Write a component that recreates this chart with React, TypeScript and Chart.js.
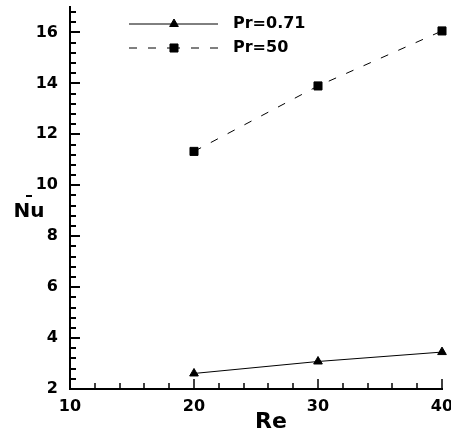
import { useEffect, useRef } from 'react';
import { Chart, registerables } from 'chart.js';
import { drawPoint } from 'chart.js/helpers';

Chart.register(...registerables);

// ---- data ----
const SERIES_LABELS = ['Pr=0.71', 'Pr=50'];
const RE_VALUES = [20, 30, 40];
const NU_PR071 = [2.61, 3.08, 3.45];
const NU_PR50 = [11.33, 13.9, 16.06];

// ---- axes ----
const X_TITLE = 'Re';
const Y_TITLE = 'Nu';
const X_MIN = 10;
const X_MAX = 40;
const Y_MIN = 2;
const Y_MAX = 17;
const X_TICKS = [10, 12, 14, 16, 18, 20, 22, 24, 26, 28, 30, 32, 34, 36, 38, 40];
const X_TICK_LABELS = [10, 20, 30, 40];
const Y_TICKS = [
  2, 2.4, 2.8, 3.2, 3.6, 4, 4.4, 4.8, 5.2, 5.6, 6, 6.4, 6.8, 7.2, 7.6, 8, 8.4, 8.8, 9.2, 9.6,
  10, 10.4, 10.8, 11.2, 11.6, 12, 12.4, 12.8, 13.2, 13.6, 14, 14.4, 14.8, 15.2, 15.6, 16, 16.4, 16.8,
];
const Y_TICK_LABELS = [2, 4, 6, 8, 10, 12, 14, 16];

const FONT = 'DejaVu Sans';

const isIn = (arr: number[], v: number) => arr.some((a) => Math.abs(a - v) < 1e-6);

const overlayPlugin = {
  id: 'overlay',
  afterDraw(chart: any) {
    const ctx: CanvasRenderingContext2D = chart.ctx;
    const { left, right, bottom } = chart.chartArea;
    const xs = chart.scales.x;
    const ys = chart.scales.y;
    ctx.save();
    ctx.setLineDash([]);
    ctx.strokeStyle = '#000';
    ctx.fillStyle = '#000';

    // inward tick marks (y)
    ctx.lineWidth = 2;
    Y_TICKS.forEach((v) => {
      const py = Math.round(ys.getPixelForValue(v));
      const len = isIn(Y_TICK_LABELS, v) ? 10 : 6;
      ctx.beginPath();
      ctx.moveTo(left, py);
      ctx.lineTo(left + len, py);
      ctx.stroke();
    });
    // inward tick marks (x)
    ctx.lineWidth = 1.5;
    X_TICKS.forEach((v) => {
      const px = Math.round(xs.getPixelForValue(v));
      const len = isIn(X_TICK_LABELS, v) ? 10 : 6;
      ctx.beginPath();
      ctx.moveTo(px, bottom);
      ctx.lineTo(px, bottom - len);
      ctx.stroke();
    });

    // axis titles
    ctx.font = `bold 22px "${FONT}"`;
    ctx.textAlign = 'center';
    ctx.textBaseline = 'alphabetic';
    ctx.fillText(X_TITLE, (left + right) / 2 + 15, 428);

    ctx.font = `bold 20px "${FONT}"`;
    ctx.fillText(Y_TITLE, 29, 217);
    ctx.fillRect(26, 195, 6, 2);

    // legend
    const rowY = [24, 48];
    const x0 = 129;
    const x1 = 218;
    const xm = 174;
    chart.data.datasets.forEach((ds: any, i: number) => {
      const y = rowY[i];
      ctx.lineWidth = ds.borderWidth;
      ctx.strokeStyle = ds.borderColor;
      ctx.setLineDash(ds.borderDash || []);
      ctx.beginPath();
      ctx.moveTo(x0, y);
      ctx.lineTo(xm, y);
      ctx.stroke();
      ctx.beginPath();
      ctx.moveTo(x1, y);
      ctx.lineTo(xm, y);
      ctx.stroke();
      ctx.setLineDash([]);
      ctx.fillStyle = ds.pointBackgroundColor;
      ctx.strokeStyle = ds.pointBorderColor;
      ctx.lineWidth = ds.pointBorderWidth;
      drawPoint(ctx, { pointStyle: ds.pointStyle, radius: ds.pointRadius, rotation: 0, borderWidth: ds.pointBorderWidth }, xm, y);
      ctx.fillStyle = '#000';
      ctx.font = `bold 16px "${FONT}"`;
      ctx.textAlign = 'left';
      ctx.textBaseline = 'middle';
      ctx.fillText(SERIES_LABELS[i], 233, y);
    });
    ctx.restore();
  },
};

export default function App() {
  const ref = useRef<HTMLCanvasElement | null>(null);

  useEffect(() => {
    if (!ref.current) return;
    const tickFont = { family: FONT, size: 16, weight: 'bold' as const };
    const chart = new Chart(ref.current, {
      type: 'line',
      data: {
        datasets: [
          {
            label: SERIES_LABELS[0],
            data: RE_VALUES.map((x, i) => ({ x, y: NU_PR071[i] })),
            borderColor: '#000',
            borderWidth: 1,
            pointStyle: 'triangle',
            pointRadius: 5,
            pointBorderWidth: 1,
            pointBackgroundColor: '#000',
            pointBorderColor: '#000',
            tension: 0,
            clip: false as any,
          },
          {
            label: SERIES_LABELS[1],
            data: RE_VALUES.map((x, i) => ({ x, y: NU_PR50[i] })),
            borderColor: '#000',
            borderWidth: 1,
            borderDash: [8, 11],
            pointStyle: 'rect',
            pointRadius: 5.7,
            pointBorderWidth: 1,
            pointBackgroundColor: '#000',
            pointBorderColor: '#000',
            tension: 0,
            clip: false as any,
          },
        ],
      },
      options: {
        responsive: false,
        animation: false,
        layout: { padding: { left: 0, right: 28, top: 7, bottom: 0 } },
        plugins: { legend: { display: false }, tooltip: { enabled: false } },
        scales: {
          x: {
            type: 'linear',
            min: X_MIN,
            max: X_MAX,
            afterBuildTicks: (s: any) => {
              s.ticks = X_TICKS.map((v) => ({ value: v }));
            },
            afterFit: (s: any) => {
              s.height = 45;
              s.paddingLeft = 0;
              s.paddingRight = 0;
            },
            grid: { display: false, drawTicks: false },
            border: { display: true, color: '#000', width: 2 },
            ticks: {
              autoSkip: false,
              maxRotation: 0,
              padding: 8,
              color: '#000',
              font: tickFont,
              callback: (v: any) => (isIn(X_TICK_LABELS, Number(v)) ? String(v) : ''),
            },
          },
          y: {
            type: 'linear',
            min: Y_MIN,
            max: Y_MAX,
            afterBuildTicks: (s: any) => {
              s.ticks = Y_TICKS.map((v) => ({ value: v }));
            },
            afterFit: (s: any) => {
              s.width = 70;
              s.paddingTop = 0;
              s.paddingBottom = 0;
            },
            grid: { display: false, drawTicks: false },
            border: { display: true, color: '#000', width: 2 },
            ticks: {
              autoSkip: false,
              padding: 12,
              color: '#000',
              font: tickFont,
              callback: (v: any) => (isIn(Y_TICK_LABELS, Number(v)) ? String(v) : ''),
            },
          },
        },
      },
      plugins: [overlayPlugin],
    });
    return () => chart.destroy();
  }, []);

  return (
    <canvas
      ref={ref}
      width={470}
      height={434}
      style={{ position: 'fixed', left: 0, top: 0, background: '#fff' }}
    />
  );
}
